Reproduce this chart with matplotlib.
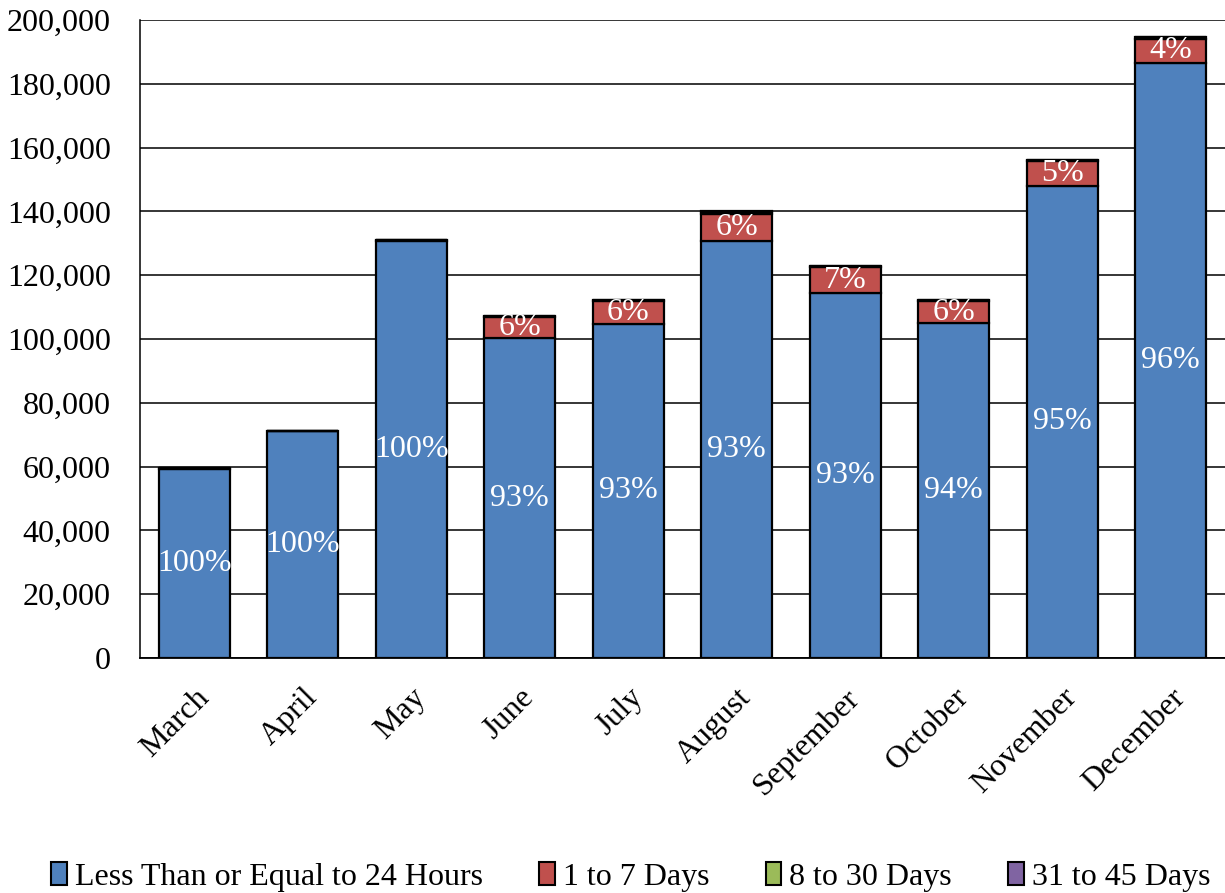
import matplotlib
matplotlib.use("Agg")
import matplotlib.pyplot as plt
from matplotlib.ticker import FuncFormatter
from matplotlib.patches import Patch
import numpy as np

months = ["March", "April", "May", "June", "July", "August",
          "September", "October", "November", "December"]

# Volumes by response-time band (thousands)
le_24h = [59.3, 71.0, 130.8, 100.2, 104.8, 130.6, 114.3, 105.0, 148.0, 186.5]
d1_7 = [0.2, 0.2, 0.3, 6.8, 7.0, 8.7, 8.3, 6.8, 7.8, 7.7]
d8_30 = [0.0, 0.0, 0.0, 0.2, 0.3, 0.6, 0.3, 0.3, 0.3, 0.4]
d31_45 = [0.0, 0.0, 0.0, 0.0, 0.0, 0.1, 0.0, 0.0, 0.0, 0.0]

series = [
    ("Less Than or Equal to 24 Hours", le_24h, "#4F81BD"),
    ("1 to 7 Days", d1_7, "#C0504D"),
    ("8 to 30 Days", d8_30, "#9BBB59"),
    ("31 to 45 Days", d31_45, "#8064A2"),
]

plt.rcParams["font.family"] = ["Liberation Serif", "DejaVu Serif"]
FS = 23

fig = plt.figure(figsize=(12.25, 8.93), dpi=100)
ax = fig.add_axes([0.1143, 0.2632, 0.8857, 0.7144])

x = np.arange(len(months))
totals = np.sum([np.array(s[1]) for s in series], axis=0) * 1000
bottom = np.zeros(len(months))
for i, (name, vals, color) in enumerate(series):
    v = np.array(vals) * 1000
    ax.bar(x, v, bottom=bottom, width=0.655, color=color,
           edgecolor="black", linewidth=1.6, zorder=3)
    if i < 2:
        for xi, b, h, t in zip(x, bottom, v, totals):
            pct = round(100 * h / t)
            if pct >= 1:
                ax.text(xi, b + h / 2, f"{pct}%", ha="center", va="center",
                        color="white", fontsize=FS, zorder=4)
    bottom = bottom + v

ax.set_xlim(-0.5, len(months) - 0.5)
ax.set_ylim(0, 200000)
ax.set_yticks(np.arange(0, 200001, 20000))
ax.yaxis.set_major_formatter(FuncFormatter(lambda v, p: f"{int(v):,}"))
ax.grid(axis="y", color="black", linewidth=1.1, zorder=0)
ax.set_axisbelow(True)

ax.set_xticks(x)
ax.set_xticklabels(months, rotation=45, ha="right", rotation_mode="anchor",
                   fontsize=FS)
ax.tick_params(axis="y", labelsize=FS, length=0, pad=21)
ax.tick_params(axis="x", length=0, pad=18)

for side in ["top", "right"]:
    ax.spines[side].set_visible(False)
ax.spines["left"].set_color("black")
ax.spines["left"].set_linewidth(1.1)
ax.spines["bottom"].set_color("black")
ax.spines["bottom"].set_linewidth(1.3)

handles = [Patch(facecolor=c, edgecolor="black", linewidth=1.5, label=n)
           for n, _, c in series]
fig.legend(handles=handles, loc="center", bbox_to_anchor=(0.515, 0.018),
           ncol=4, frameon=False, fontsize=FS, handlelength=0.5,
           handleheight=0.7, handletextpad=0.25, columnspacing=1.75,
           borderaxespad=0)

fig.savefig("out.png", dpi=100)
